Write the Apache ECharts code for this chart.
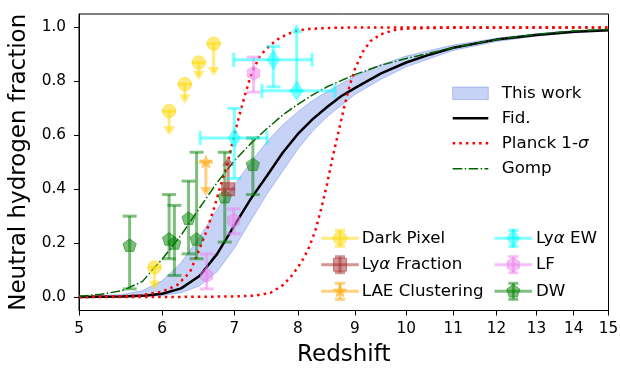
<!DOCTYPE html>
<html><head><meta charset="utf-8">
<script src="https://cdn.jsdelivr.net/npm/echarts@6/dist/echarts.min.js"></script>
<style>html,body{margin:0;padding:0;background:#fff}#c{width:620px;height:370px}</style>
</head><body><div id="c"></div>
<script>
// ---------- axis ticks ----------
const xTicks = [5, 6, 7, 8, 9, 10, 11, 12, 13, 14, 15];
const yTicks = [0, 0.2, 0.4, 0.6, 0.8, 1.0];

// ---------- model curves (redshift, neutral fraction) ----------
const fidZ = [5.0, 5.5, 5.8, 6.0, 6.25, 6.5, 6.75, 7.0, 7.25, 7.5, 7.75, 8.0, 8.25, 8.5, 8.75, 9.0, 9.5, 10, 10.5, 11, 12, 13, 14, 15];
const fidX = [0.0, 0.002, 0.006, 0.012, 0.032, 0.078, 0.16, 0.265, 0.365, 0.45, 0.535, 0.605, 0.66, 0.705, 0.745, 0.775, 0.83, 0.87, 0.90, 0.925, 0.955, 0.972, 0.984, 0.99];

const bandZ = [5.0, 5.5, 5.75, 6.0, 6.25, 6.5, 6.75, 7.0, 7.25, 7.5, 7.75, 8.0, 8.25, 8.5, 9.0, 9.5, 10, 11, 12, 13, 14, 15];
const bandUpper = [0.002, 0.009, 0.024, 0.06, 0.127, 0.223, 0.325, 0.416, 0.50, 0.577, 0.638, 0.687, 0.729, 0.763, 0.819, 0.862, 0.894, 0.935, 0.96, 0.977, 0.987, 0.992];
const bandLower = [0.0, 0.0, 0.002, 0.006, 0.016, 0.041, 0.094, 0.181, 0.285, 0.382, 0.467, 0.549, 0.616, 0.669, 0.751, 0.808, 0.854, 0.915, 0.948, 0.968, 0.98, 0.987];

const planckLoZ = [5.0, 5.5, 5.72, 6.0, 6.2, 6.37, 6.48, 6.6, 6.7, 6.79, 6.89, 6.96, 7.06, 7.16, 7.26, 7.39, 7.55, 7.71, 7.93, 8.15, 8.5, 9.0, 10, 15];
const planckLoX = [0.0, 0.003, 0.006, 0.02, 0.045, 0.093, 0.165, 0.245, 0.325, 0.405, 0.485, 0.56, 0.66, 0.75, 0.83, 0.895, 0.935, 0.963, 0.985, 0.994, 0.998, 1.0, 1.0, 1.0];

const planckHiZ = [5.0, 6.0, 7.0, 7.3, 7.55, 7.76, 7.9, 8.0, 8.1, 8.2, 8.3, 8.4, 8.5, 8.6, 8.7, 8.8, 8.9, 9.0, 9.15, 9.3, 9.5, 9.75, 10, 11, 15];
const planckHiX = [0.0, 0.0, 0.002, 0.005, 0.015, 0.045, 0.08, 0.11, 0.145, 0.19, 0.25, 0.33, 0.42, 0.52, 0.61, 0.70, 0.78, 0.845, 0.91, 0.95, 0.975, 0.99, 0.996, 1.0, 1.0];

const gompZ = [5.0, 5.25, 5.5, 5.75, 5.9, 6.0, 6.25, 6.5, 6.75, 7.0, 7.25, 7.5, 7.75, 8.0, 8.25, 8.5, 9.0, 9.5, 10, 11, 12, 13, 14, 15];
const gompX = [0.003, 0.01, 0.024, 0.058, 0.11, 0.14, 0.23, 0.33, 0.425, 0.505, 0.57, 0.625, 0.675, 0.715, 0.75, 0.78, 0.825, 0.86, 0.885, 0.925, 0.955, 0.975, 0.987, 0.993];

// ---------- observational constraints ----------
// Dark Pixel (upper limits; arrow tip values)
const darkZ = [5.9, 6.09, 6.30, 6.49, 6.70];
const darkX = [0.11, 0.69, 0.79, 0.87, 0.94];
const darkTip = [0.027, 0.60, 0.718, 0.806, 0.82];

// Lya Fraction (lower limit; arrow tip value)
const fracZ = [6.91];
const fracX = [0.40];
const fracTip = [0.52];

// LAE Clustering (upper limit)
const laeZ = [6.59];
const laeX = [0.50];
const laeTip = [0.375];

// Lya EW (x and y errors, last one lower limit)
const ewZ = [7.0, 7.6, 7.98];
const ewX = [0.59, 0.88, 0.765];
const ewZlo = [6.51, 6.99, 7.42];
const ewZhi = [7.50, 8.24, 8.64];
const ewLo = [0.44, 0.78, 0.765];
const ewHi = [0.70, 0.93, 1.012];
const ewLim = [0, 0, 2];

// LF
const lfZ = [6.60, 6.99, 7.29];
const lfX = [0.08, 0.284, 0.83];
const lfLo = [0.03, 0.235, 0.76];
const lfHi = [0.16, 0.327, 0.89];

// DW
const dwZ = [5.59, 6.09, 6.16, 6.35, 6.46, 6.86, 7.28];
const dwX = [0.19, 0.213, 0.198, 0.29, 0.213, 0.37, 0.49];
const dwLo = [0.03, 0.142, 0.08, 0.16, 0.142, 0.204, 0.38];
const dwHi = [0.30, 0.38, 0.34, 0.43, 0.537, 0.537, 0.59];

// ---------- helpers ----------
const lx = z => Math.log(1 + z);
const FONT = 'DejaVu Sans';
const rgba = (c, a) => 'rgba(' + c[0] + ',' + c[1] + ',' + c[2] + ',' + a + ')';
const C = {
  dark: [255, 215, 0], frac: [165, 42, 42], lae: [255, 165, 0],
  ew: [0, 255, 255], lf: [238, 130, 238], dw: [0, 128, 0]
};

function marker(shape, cx, cy, s, col) {
  const style = { fill: col, stroke: col, lineWidth: 1 };
  if (shape === 'circle') return { type: 'circle', shape: { cx: cx, cy: cy, r: s }, style: style };
  if (shape === 'square') return { type: 'rect', shape: { x: cx - s, y: cy - s, width: 2 * s, height: 2 * s }, style: style };
  const pts = [];
  if (shape === 'diamond') {
    pts.push([cx, cy - s * 1.4], [cx + s * 0.9, cy], [cx, cy + s * 1.4], [cx - s * 0.9, cy]);
  } else if (shape === 'star') {
    for (let i = 0; i < 10; i++) {
      const a = -Math.PI / 2 + i * Math.PI / 5;
      const r = i % 2 ? s * 0.42 : s * 1.05;
      pts.push([cx + r * Math.cos(a), cy + r * Math.sin(a)]);
    }
  } else {
    const n = shape === 'hexagon' ? 6 : 5;
    for (let i = 0; i < n; i++) {
      const a = -Math.PI / 2 + i * 2 * Math.PI / n;
      pts.push([cx + s * Math.cos(a), cy + s * Math.sin(a)]);
    }
  }
  return { type: 'polygon', shape: { points: pts }, style: style };
}

function seg(x1, y1, x2, y2, col, w) {
  return { type: 'line', shape: { x1: x1, y1: y1, x2: x2, y2: y2 }, style: { stroke: col, lineWidth: w || 3 } };
}
function tri(cx, tipY, dir, col) { // dir 1: pointing down, -1: pointing up
  return { type: 'polygon', shape: { points: [[cx - 6, tipY - dir * 9], [cx + 6, tipY - dir * 9], [cx, tipY]] }, style: { fill: col } };
}

// spec: {z, v, lo, hi, lim (0 none, 1 upper-limit arrow down, 2 lower-limit arrow up), zlo, zhi}
function errSeries(name, rgb, shape, size, spec) {
  const col = rgba(rgb, 0.5);
  return {
    type: 'custom', name: name, z: 5,
    data: spec.z.map((z, i) => [lx(z), spec.v[i]]),
    renderItem: function (params, api) {
      const i = params.dataIndex;
      const X = lx(spec.z[i]), V = spec.v[i];
      const c = api.coord([X, V]);
      const ch = [];
      if (spec.zlo) {
        const a = api.coord([lx(spec.zlo[i]), V])[0], b = api.coord([lx(spec.zhi[i]), V])[0];
        ch.push(seg(a, c[1], b, c[1], col));
        ch.push(seg(a, c[1] - 7, a, c[1] + 7, col));
        ch.push(seg(b, c[1] - 7, b, c[1] + 7, col));
      }
      const lim = spec.lim[i];
      const pl = api.coord([X, spec.lo[i]])[1], ph = api.coord([X, spec.hi[i]])[1];
      if (lim === 1) {
        ch.push(seg(c[0], c[1], c[0], pl - 4, col));
        ch.push(tri(c[0], pl, 1, col));
        ch.push(seg(c[0] - 7, c[1], c[0] + 7, c[1], col));
      } else if (lim === 2) {
        ch.push(seg(c[0], c[1], c[0], ph + 4, col));
        ch.push(tri(c[0], ph, -1, col));
        ch.push(seg(c[0] - 7, c[1], c[0] + 7, c[1], col));
      } else {
        ch.push(seg(c[0], pl, c[0], ph, col));
        ch.push(seg(c[0] - 7, pl, c[0] + 7, pl, col));
        ch.push(seg(c[0] - 7, ph, c[0] + 7, ph, col));
      }
      ch.push(marker(shape, c[0], c[1], size, col));
      return { type: 'group', children: ch };
    }
  };
}

function lineData(zs, xs) { return zs.map((z, i) => [lx(z), xs[i]]); }

// ---------- legend (graphic) ----------
const legendItems1 = ['This work', 'Fid.', 'Planck 1-{s|σ}', 'Gomp'];
const legendItems2a = ['Dark Pixel', 'Ly{s|α} Fraction', 'LAE Clustering'];
const legendItems2b = ['Ly{s|α} EW', 'LF', 'DW'];

function legendText(x, y, t) {
  return {
    type: 'text', x: x, y: y, z: 100,
    style: {
      text: t, fill: '#000', fontFamily: FONT, fontSize: 16.7, verticalAlign: 'middle', align: 'left',
      rich: { s: { fontStyle: 'italic', fontFamily: FONT, fontSize: 16.7 } }
    }
  };
}
function legendErr(cx, cy, rgb, shape, size) {
  const col = rgba(rgb, 0.5);
  return {
    type: 'group', z: 100, children: [
      seg(cx - 18.8, cy, cx + 18.8, cy, col),
      seg(cx, cy - 8, cx, cy + 8, col),
      seg(cx - 5, cy - 8, cx + 5, cy - 8, col),
      seg(cx - 5, cy + 8, cx + 5, cy + 8, col),
      marker(shape, cx, cy, size, col)
    ]
  };
}
const lg = [];
const l1x0 = 452.7, l1x1 = 488.3, l1tx = 501.7, l1y = [93.3, 118.3, 143.3, 168.7];
lg.push({ type: 'rect', z: 100, shape: { x: l1x0, y: l1y[0] - 6.3, width: l1x1 - l1x0, height: 12.6 },
  style: { fill: 'rgba(65,105,225,0.3)', stroke: 'rgba(65,105,225,0.35)', lineWidth: 1 } });
lg.push({ type: 'line', z: 100, shape: { x1: l1x0, y1: l1y[1], x2: l1x1, y2: l1y[1] }, style: { stroke: '#000', lineWidth: 2.5 } });
lg.push({ type: 'line', z: 100, shape: { x1: l1x0, y1: l1y[2], x2: l1x1, y2: l1y[2] }, style: { stroke: '#ff0000', lineWidth: 2.5, lineDash: [2.5, 4.1] } });
lg.push({ type: 'line', z: 100, shape: { x1: l1x0, y1: l1y[3], x2: l1x1, y2: l1y[3] }, style: { stroke: '#006400', lineWidth: 1.5, lineDash: [9.6, 2.4, 1.5, 2.4] } });
legendItems1.forEach((t, i) => lg.push(legendText(l1tx, l1y[i], t)));

const l2y = [238.3, 264.7, 291.3];
const l2a = [[C.dark, 'circle', 6.7], [C.frac, 'square', 6.5], [C.lae, 'star', 6.5]];
const l2b = [[C.ew, 'diamond', 6.8], [C.lf, 'hexagon', 7], [C.dw, 'pentagon', 7]];
l2a.forEach((m, i) => { lg.push(legendErr(340, l2y[i], m[0], m[1], m[2])); lg.push(legendText(361.7, l2y[i], legendItems2a[i])); });
l2b.forEach((m, i) => { lg.push(legendErr(513.3, l2y[i], m[0], m[1], m[2])); lg.push(legendText(536, l2y[i], legendItems2b[i])); });

// ---------- chart ----------
const chart = echarts.init(document.getElementById('c'), null, { renderer: 'canvas' });
const option = {
  animation: false,
  backgroundColor: '#fff',
  textStyle: { fontFamily: FONT },
  grid: { left: 79, right: 11.5, top: 14, bottom: 59.5, show: true, borderColor: '#000', borderWidth: 1, containLabel: false, outerBoundsMode: 'none' },
  xAxis: {
    type: 'value', min: lx(5), max: lx(15),
    name: 'Redshift', nameLocation: 'middle', nameGap: 33,
    nameTextStyle: { fontFamily: FONT, fontSize: 23, color: '#000' },
    axisLine: { show: true, onZero: false, lineStyle: { color: '#000', width: 1 } },
    axisTick: { show: true, inside: false, length: 5, lineStyle: { color: '#000', width: 1 }, customValues: xTicks.map(lx) },
    axisLabel: { customValues: xTicks.map(lx), margin: 11, fontFamily: FONT, fontSize: 15.3, color: '#000',
      formatter: v => String(Math.round(Math.exp(v) - 1)) },
    splitLine: { show: false }
  },
  yAxis: {
    type: 'value', min: -0.05, max: 1.05,
    name: 'Neutral hydrogen fraction', nameLocation: 'middle', nameGap: 43, nameRotate: 90,
    nameTextStyle: { fontFamily: FONT, fontSize: 23, color: '#000' },
    axisLine: { show: true, onZero: false, lineStyle: { color: '#000', width: 1 } },
    axisTick: { show: true, inside: false, length: 5, lineStyle: { color: '#000', width: 1 }, customValues: yTicks },
    axisLabel: { customValues: yTicks, margin: 13, fontFamily: FONT, fontSize: 15.3, color: '#000',
      formatter: v => v.toFixed(1) },
    splitLine: { show: false }
  },
  series: [
    {
      type: 'custom', name: 'This work', z: 1,
      data: [[lx(bandZ[0]), bandLower[0]]],
      renderItem: function (params, api) {
        const pts = [];
        bandZ.forEach((z, i) => pts.push(api.coord([lx(z), bandUpper[i]])));
        for (let i = bandZ.length - 1; i >= 0; i--) pts.push(api.coord([lx(bandZ[i]), bandLower[i]]));
        return { type: 'polygon', shape: { points: pts },
          style: { fill: 'rgba(65,105,225,0.3)', stroke: 'rgba(65,105,225,0.35)', lineWidth: 1 } };
      }
    },
    { type: 'line', name: 'Fid.', z: 3, data: lineData(fidZ, fidX), showSymbol: false, symbol: 'none',
      smooth: false, lineStyle: { color: '#000', width: 2.5 } },
    { type: 'line', name: 'Planck lo', z: 3, data: lineData(planckLoZ, planckLoX), showSymbol: false, symbol: 'none',
      smooth: false, lineStyle: { color: '#ff0000', width: 2.5, type: [2.5, 4.1] } },
    { type: 'line', name: 'Planck hi', z: 3, data: lineData(planckHiZ, planckHiX), showSymbol: false, symbol: 'none',
      smooth: false, lineStyle: { color: '#ff0000', width: 2.5, type: [2.5, 4.1] } },
    { type: 'line', name: 'Gomp', z: 3, data: lineData(gompZ, gompX), showSymbol: false, symbol: 'none',
      smooth: false, lineStyle: { color: '#006400', width: 1.5, type: [9.6, 2.4, 1.5, 2.4] } },
    errSeries('DW', C.dw, 'pentagon', 7, { z: dwZ, v: dwX, lo: dwLo, hi: dwHi, lim: dwZ.map(() => 0) }),
    errSeries('LF', C.lf, 'hexagon', 7, { z: lfZ, v: lfX, lo: lfLo, hi: lfHi, lim: lfZ.map(() => 0) }),
    errSeries('Dark Pixel', C.dark, 'circle', 6.7, { z: darkZ, v: darkX, lo: darkTip, hi: darkX, lim: darkZ.map(() => 1) }),
    errSeries('LAE Clustering', C.lae, 'star', 6.5, { z: laeZ, v: laeX, lo: laeTip, hi: laeX, lim: [1] }),
    errSeries('Lya Fraction', C.frac, 'square', 6.5, { z: fracZ, v: fracX, lo: fracX, hi: fracTip, lim: [2] }),
    errSeries('Lya EW', C.ew, 'diamond', 6.8, { z: ewZ, v: ewX, lo: ewLo, hi: ewHi, lim: ewLim, zlo: ewZlo, zhi: ewZhi })
  ],
  graphic: lg
};
chart.setOption(option);
</script>
</body></html>
